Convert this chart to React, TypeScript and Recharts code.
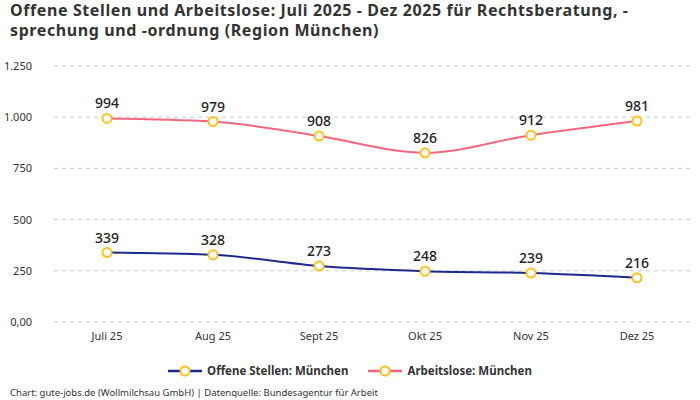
import { LineChart, Line, XAxis, YAxis, CartesianGrid, Legend, LabelList } from "recharts";

const months = ["Juli 25", "Aug 25", "Sept 25", "Okt 25", "Nov 25", "Dez 25"];
const offeneStellen = [339, 328, 273, 248, 239, 216];
const arbeitslose = [994, 979, 908, 826, 912, 981];
const yTicks = [0, 250, 500, 750, 1000, 1250];

const data = months.map((m, i) => ({
  month: m,
  offen: offeneStellen[i],
  arbeitslos: arbeitslose[i],
}));

const font = "'Noto Sans', 'DejaVu Sans', sans-serif";
const fmtTick = (v: number) => (v === 0 ? "0,00" : v.toLocaleString("de-DE"));

const titleLines = [
  "Offene Stellen und Arbeitslose: Juli 2025 - Dez 2025 für Rechtsberatung, -",
  "sprechung und -ordnung (Region München)",
];

const legendItems = [
  { name: "Offene Stellen: München", color: "#1b2a8c" },
  { name: "Arbeitslose: München", color: "#f7667f" },
];

export default function App() {
  return (
    <div
      style={{
        position: "absolute",
        top: 0,
        left: 0,
        width: 700,
        height: 400,
        background: "#fff",
        fontFamily: font,
        color: "#333",
      }}
    >
      {titleLines.map((t, i) => (
        <div
          key={t}
          style={{
            position: "absolute",
            left: 10,
            top: 1 + i * 20,
            height: 19,
            fontSize: 16,
            fontWeight: 700,
            lineHeight: "19px",
            letterSpacing: 0.6,
            whiteSpace: "nowrap",
            color: "#333",
          }}
        >
          {t}
        </div>
      ))}
      <div style={{ position: "absolute", top: 0, left: 0 }}>
        <LineChart
          width={700}
          height={386}
          data={data}
          margin={{ top: 66, right: 10, bottom: 0, left: 0 }}
        >
          <CartesianGrid strokeDasharray="4 4" stroke="#ccc" vertical={false} />
          <XAxis
            dataKey="month"
            axisLine={false}
            tickLine={false}
            padding={{ left: 53, right: 53 }}
            tick={{ fontSize: 11, fill: "#333", fontFamily: font }}
            tickMargin={4}
            height={26}
          />
          <YAxis
            domain={[0, 1250]}
            ticks={yTicks}
            tickFormatter={fmtTick}
            axisLine={false}
            tickLine={false}
            width={54}
            tickMargin={16}
            tick={{ fontSize: 11, fill: "#333", fontFamily: font }}
          />
          <Legend
            verticalAlign="bottom"
            height={38}
            content={() => (
              <div
                style={{
                  display: "flex",
                  justifyContent: "center",
                  gap: 20,
                  fontSize: 11.5,
                  fontWeight: 700,
                  color: "#333",
                  fontFamily: font,
                  paddingTop: 15,
                  paddingLeft: 10,
                }}
              >
                {legendItems.map((it) => (
                  <span key={it.name} style={{ display: "flex", alignItems: "center", gap: 5 }}>
                    <svg width={34} height={12}>
                      <line x1={0} y1={6} x2={34} y2={6} stroke={it.color} strokeWidth={2.5} />
                      <circle cx={17} cy={6} r={4.5} fill="#fff" stroke="#ffc21a" strokeWidth={2} />
                    </svg>
                    {it.name}
                  </span>
                ))}
              </div>
            )}
          />
          <Line
            type="monotone"
            dataKey="offen"
            name="Offene Stellen: München"
            stroke="#1b2a8c"
            strokeWidth={2}
            dot={{ r: 4.5, fill: "#fff", stroke: "#ffc21a", strokeWidth: 2 }}
            isAnimationActive={false}
          >
            <LabelList
              dataKey="offen"
              position="top"
              offset={10}
              style={{ fontSize: 14, fontWeight: 500, fill: "#222", fontFamily: font }}
            />
          </Line>
          <Line
            type="monotone"
            dataKey="arbeitslos"
            name="Arbeitslose: München"
            stroke="#f7667f"
            strokeWidth={2}
            dot={{ r: 4.5, fill: "#fff", stroke: "#ffc21a", strokeWidth: 2 }}
            isAnimationActive={false}
          >
            <LabelList
              dataKey="arbeitslos"
              position="top"
              offset={10}
              style={{ fontSize: 14, fontWeight: 500, fill: "#222", fontFamily: font }}
            />
          </Line>
        </LineChart>
      </div>
      <div
        style={{
          position: "absolute",
          left: 10,
          top: 387,
          fontSize: 9.5,
          color: "#333",
          lineHeight: "12px",
        }}
      >
        Chart: gute-jobs.de (Wollmilchsau GmbH) | Datenquelle: Bundesagentur für Arbeit
      </div>
    </div>
  );
}
